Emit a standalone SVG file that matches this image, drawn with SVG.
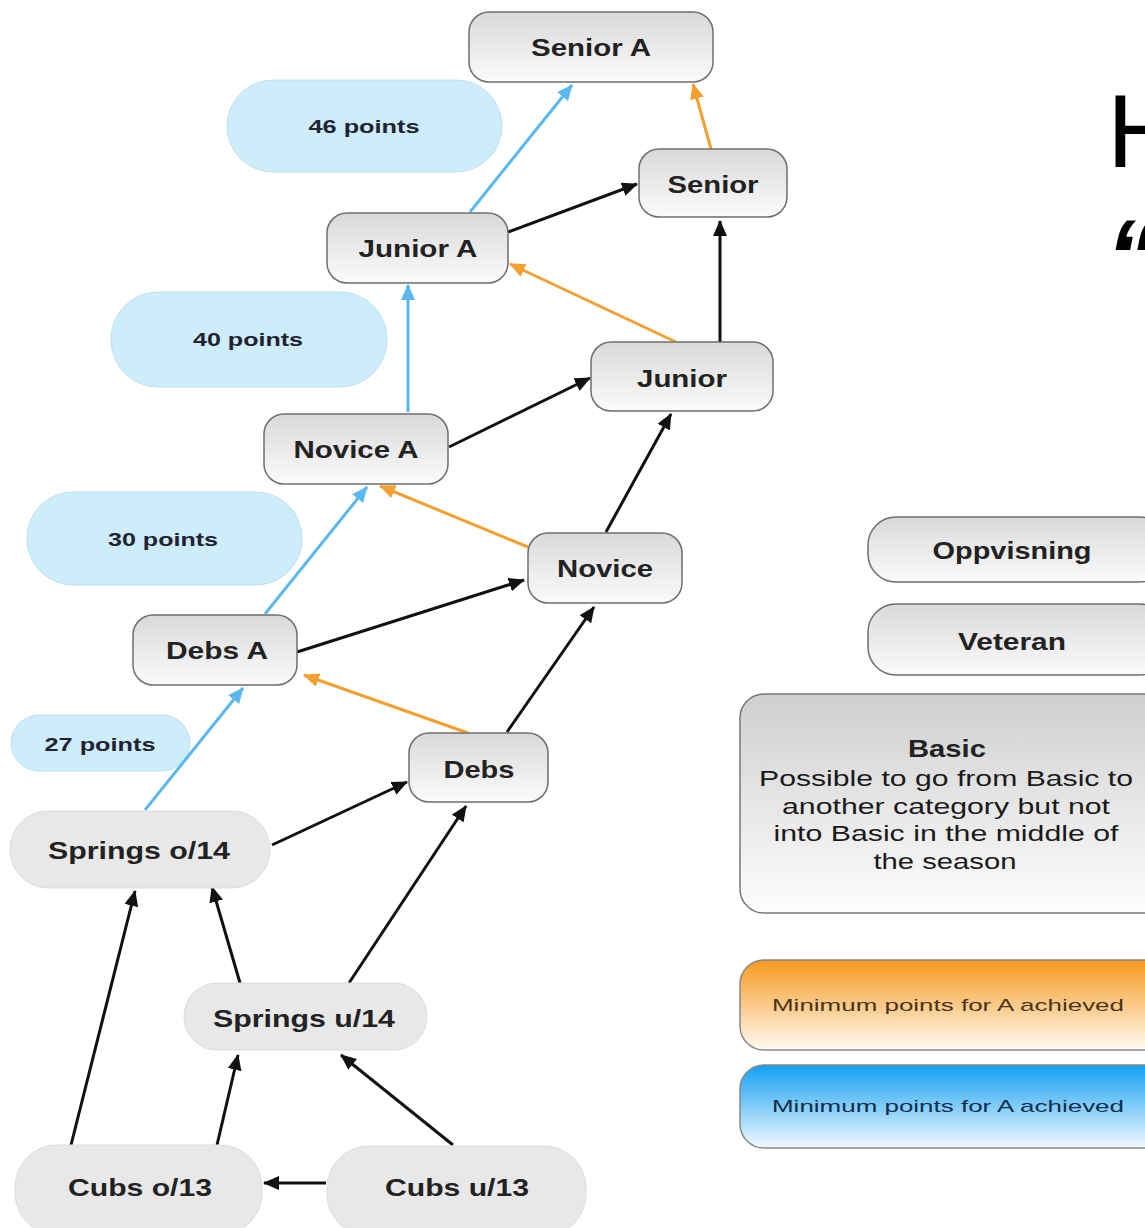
<svg xmlns="http://www.w3.org/2000/svg" width="1145" height="1228" viewBox="0 0 1145 1228">
<style>
.n{stroke:#6e6e6e;stroke-width:1.5;fill:url(#gNode)}
.p{fill:#e8e8e8;stroke:#dcdcdc;stroke-width:1}
.pts{fill:#cdedfa;stroke:#bfe0ee;stroke-width:1}
.t{font-family:"Liberation Sans",Arial,sans-serif;font-weight:bold;font-size:24px;fill:#222;text-anchor:middle;dominant-baseline:central}
.tp{font-family:"Liberation Sans",Arial,sans-serif;font-weight:bold;font-size:19px;fill:#223;text-anchor:middle;dominant-baseline:central}
.tb{font-family:"Liberation Sans",Arial,sans-serif;font-size:22px;fill:#1a1a1a;text-anchor:middle}
.tl{font-family:"Liberation Sans",Arial,sans-serif;font-size:17px;text-anchor:middle;dominant-baseline:central}
.cb{stroke:#5ab8ee;stroke-width:3;fill:none;marker-end:url(#mB)}
.co{stroke:#f4a030;stroke-width:3;fill:none;marker-end:url(#mO)}
.ck{stroke:#111;stroke-width:3;fill:none;marker-end:url(#mK)}
.big{font-family:"Liberation Sans",Arial,sans-serif;font-size:104px;fill:#000}
</style>
<defs>
<linearGradient id="gNode" x1="0" y1="0" x2="0" y2="1">
<stop offset="0" stop-color="#d9d9d9"/><stop offset="1" stop-color="#fbfbfb"/>
</linearGradient>
<linearGradient id="gBasic" x1="0" y1="0" x2="0" y2="1">
<stop offset="0" stop-color="#cfcfcf"/><stop offset="1" stop-color="#fdfdfd"/>
</linearGradient>
<linearGradient id="gOr" x1="0" y1="0" x2="0" y2="1">
<stop offset="0" stop-color="#f79a20"/><stop offset="1" stop-color="#fffaf2"/>
</linearGradient>
<linearGradient id="gBl" x1="0" y1="0" x2="0" y2="1">
<stop offset="0" stop-color="#12a0f2"/><stop offset="1" stop-color="#f2f9ff"/>
</linearGradient>
<marker id="mB" markerUnits="userSpaceOnUse" markerWidth="16" markerHeight="14" refX="15" refY="7" orient="auto"><path d="M0,0 L16,7 L0,14 z" fill="#5ab8ee"/></marker>
<marker id="mO" markerUnits="userSpaceOnUse" markerWidth="16" markerHeight="14" refX="15" refY="7" orient="auto"><path d="M0,0 L16,7 L0,14 z" fill="#f4a030"/></marker>
<marker id="mK" markerUnits="userSpaceOnUse" markerWidth="16" markerHeight="14" refX="15" refY="7" orient="auto"><path d="M0,0 L16,7 L0,14 z" fill="#111"/></marker>
</defs>
<rect width="1145" height="1228" fill="#fff"/>

<g id="points-46"><rect class="pts" x="227" y="80" width="275" height="92" rx="46"/><text class="tp" x="364" y="126" textLength="111" lengthAdjust="spacingAndGlyphs">46 points</text></g>
<g id="points-40"><rect class="pts" x="111" y="292" width="276" height="95" rx="47"/><text class="tp" x="248" y="339" textLength="110" lengthAdjust="spacingAndGlyphs">40 points</text></g>
<g id="points-30"><rect class="pts" x="27" y="492" width="275" height="93" rx="46"/><text class="tp" x="163" y="539" textLength="110" lengthAdjust="spacingAndGlyphs">30 points</text></g>
<g id="points-27"><rect class="pts" x="11" y="715" width="179" height="56" rx="28"/><text class="tp" x="100" y="744" textLength="111" lengthAdjust="spacingAndGlyphs">27 points</text></g>

<g id="connectors">
<line class="cb" x1="145" y1="810" x2="243" y2="688"/>
<line class="cb" x1="265" y1="614" x2="367" y2="487"/>
<line class="cb" x1="408" y1="412" x2="408" y2="285"/>
<line class="cb" x1="470" y1="212" x2="572" y2="85"/>
<line class="co" x1="468" y1="733" x2="304" y2="675"/>
<line class="co" x1="528" y1="547" x2="380" y2="486"/>
<line class="co" x1="676" y1="342" x2="510" y2="264"/>
<line class="co" x1="711" y1="149" x2="693" y2="84"/>
<line class="ck" x1="272" y1="845" x2="407" y2="782"/>
<line class="ck" x1="297" y1="652" x2="524" y2="580"/>
<line class="ck" x1="449" y1="447" x2="590" y2="378"/>
<line class="ck" x1="508" y1="232" x2="637" y2="184"/>
<line class="ck" x1="507" y1="732" x2="594" y2="607"/>
<line class="ck" x1="606" y1="532" x2="671" y2="414"/>
<line class="ck" x1="720" y1="342" x2="720" y2="221"/>
<line class="ck" x1="349" y1="983" x2="466" y2="806"/>
<line class="ck" x1="240" y1="983" x2="212" y2="887"/>
<line class="ck" x1="71" y1="1145" x2="135" y2="891"/>
<line class="ck" x1="217" y1="1145" x2="238" y2="1055"/>
<line class="ck" x1="453" y1="1145" x2="341" y2="1055"/>
<line class="ck" x1="326" y1="1183" x2="264" y2="1183"/>
</g>

<g id="senior-a"><rect class="n" x="469" y="12" width="244" height="70" rx="20"/><text class="t" x="591" y="47" textLength="120" lengthAdjust="spacingAndGlyphs">Senior A</text></g>
<g id="senior"><rect class="n" x="639" y="149" width="148" height="68" rx="20"/><text class="t" x="713" y="184" textLength="91" lengthAdjust="spacingAndGlyphs">Senior</text></g>
<g id="junior-a"><rect class="n" x="327" y="213" width="181" height="70" rx="20"/><text class="t" x="418" y="248" textLength="119" lengthAdjust="spacingAndGlyphs">Junior A</text></g>
<g id="junior"><rect class="n" x="591" y="342" width="182" height="69" rx="20"/><text class="t" x="682" y="378" textLength="90" lengthAdjust="spacingAndGlyphs">Junior</text></g>
<g id="novice-a"><rect class="n" x="264" y="414" width="184" height="70" rx="20"/><text class="t" x="356" y="449" textLength="125" lengthAdjust="spacingAndGlyphs">Novice A</text></g>
<g id="novice"><rect class="n" x="528" y="533" width="154" height="70" rx="20"/><text class="t" x="605" y="568" textLength="96" lengthAdjust="spacingAndGlyphs">Novice</text></g>
<g id="debs-a"><rect class="n" x="133" y="615" width="164" height="70" rx="20"/><text class="t" x="217" y="650" textLength="102" lengthAdjust="spacingAndGlyphs">Debs A</text></g>
<g id="debs"><rect class="n" x="409" y="733" width="139" height="69" rx="20"/><text class="t" x="479" y="769" textLength="71" lengthAdjust="spacingAndGlyphs">Debs</text></g>
<g id="springs-o14"><rect class="p" x="10" y="811" width="260" height="77" rx="38"/><text class="t" x="139" y="850" textLength="182" lengthAdjust="spacingAndGlyphs">Springs o/14</text></g>
<g id="springs-u14"><rect class="p" x="184" y="983" width="243" height="67" rx="33"/><text class="t" x="304" y="1018" textLength="182" lengthAdjust="spacingAndGlyphs">Springs u/14</text></g>
<g id="cubs-o13"><rect class="p" x="15" y="1145" width="247" height="90" rx="42"/><text class="t" x="140" y="1187" textLength="144" lengthAdjust="spacingAndGlyphs">Cubs o/13</text></g>
<g id="cubs-u13"><rect class="p" x="327" y="1146" width="259" height="90" rx="42"/><text class="t" x="457" y="1187" textLength="144" lengthAdjust="spacingAndGlyphs">Cubs u/13</text></g>

<g id="oppvisning"><rect class="n" x="868" y="517" width="300" height="65" rx="28"/><text class="t" x="1012" y="550" textLength="159" lengthAdjust="spacingAndGlyphs">Oppvisning</text></g>
<g id="veteran"><rect class="n" x="868" y="604" width="300" height="71" rx="28"/><text class="t" x="1012" y="641" textLength="108" lengthAdjust="spacingAndGlyphs">Veteran</text></g>
<g id="basic"><rect x="740" y="694" width="430" height="219" rx="24" fill="url(#gBasic)" stroke="#777" stroke-width="1.5"/>
<text class="t" x="947" y="748" textLength="78" lengthAdjust="spacingAndGlyphs">Basic</text>
<text class="tb" x="946" y="786" textLength="374" lengthAdjust="spacingAndGlyphs">Possible to go from Basic to</text>
<text class="tb" x="946" y="814" textLength="328" lengthAdjust="spacingAndGlyphs">another category but not</text>
<text class="tb" x="946" y="841" textLength="345" lengthAdjust="spacingAndGlyphs">into Basic in the middle of</text>
<text class="tb" x="945" y="869" textLength="143" lengthAdjust="spacingAndGlyphs">the season</text>
</g>
<g id="legend-orange"><rect x="740" y="960" width="430" height="90" rx="24" fill="url(#gOr)" stroke="#888" stroke-width="1.5"/><text class="tl" x="948" y="1005" fill="#4a3418" textLength="352" lengthAdjust="spacingAndGlyphs">Minimum points for A achieved</text></g>
<g id="legend-blue"><rect x="740" y="1065" width="430" height="83" rx="24" fill="url(#gBl)" stroke="#888" stroke-width="1.5"/><text class="tl" x="948" y="1106" fill="#0e2d4d" textLength="352" lengthAdjust="spacingAndGlyphs">Minimum points for A achieved</text></g>

<g id="title"><text class="big" x="1107" y="167">H</text><text class="big" x="1106" y="292" font-weight="bold" font-style="italic">“</text></g>
</svg>
